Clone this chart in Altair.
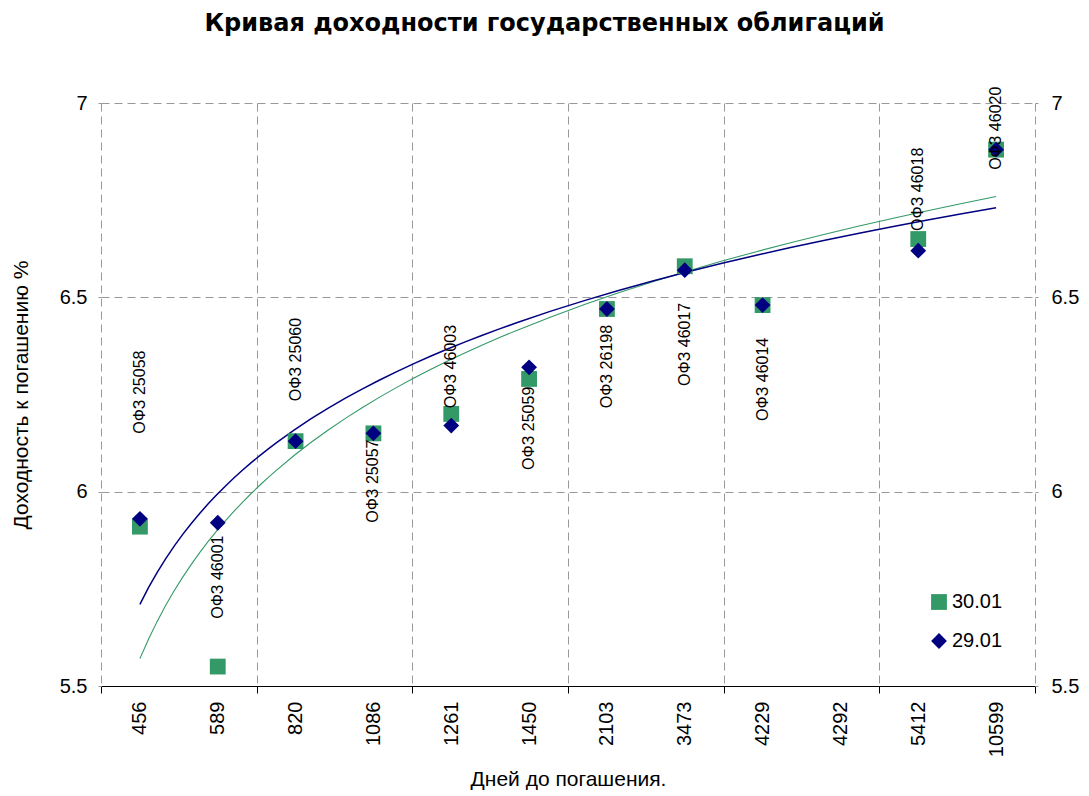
import json
import altair as alt
import pandas as pd

categories = ["456", "589", "820", "1086", "1261", "1450", "2103", "3473", "4229", "4292", "5412", "10599"]
idx = list(range(1, 13))
y_3001 = [5.91, 5.55, 6.13, 6.15, 6.20, 6.29, 6.47, 6.58, 6.48, None, 6.65, 6.88]
y_2901 = [5.93, 5.92, 6.13, 6.15, 6.17, 6.32, 6.47, 6.57, 6.48, None, 6.62, 6.88]
bond_labels = ["ОФЗ 25058", "ОФЗ 46001", "ОФЗ 25060", "ОФЗ 25057", "ОФЗ 46003", "ОФЗ 25059",
               "ОФЗ 26198", "ОФЗ 46017", "ОФЗ 46014", "", "ОФЗ 46018", "ОФЗ 46020"]
label_y = [6.256, 5.78, 6.34, 6.027, 6.322, 6.163, 6.322, 6.379, 6.289, None, 6.778, 6.935]
trend_3001 = [5.57, 5.902, 6.096, 6.234, 6.341, 6.428, 6.502, 6.566, 6.622, 6.673, 6.719, 6.756]
trend_2901 = [5.71, 5.995, 6.161, 6.279, 6.371, 6.446, 6.509, 6.564, 6.612, 6.655, 6.694, 6.731]

series_names = ["30.01", "29.01"]
series_colors = ["#339966", "#000080"]
series_shapes = ["square", "diamond"]
trend_widths = [1.1, 1.5]

FONT = "Liberation Sans"

rows = []
for name, vals in zip(series_names, [y_3001, y_2901]):
    for i, v in zip(idx, vals):
        if v is not None:
            rows.append({"i": i, "v": v, "series": name})
points_df = pd.DataFrame(rows)

trows = []
for name, vals in zip(series_names, [trend_3001, trend_2901]):
    for i, v in zip(idx, vals):
        trows.append({"i": i, "v": v, "series": name})
trend_df = pd.DataFrame(trows)

labels_df = pd.DataFrame({"i": idx, "ly": label_y, "txt": bond_labels}).dropna()

cats_js = json.dumps(categories).replace('"', "'")
x_values = [0.5, 1, 2, 2.5, 3, 4, 4.5, 5, 6, 6.5, 7, 8, 8.5, 9, 10, 10.5, 11, 12, 12.5]
boundary_test = "datum.value % 2 == 0.5"

x_scale = alt.Scale(domain=[0.5, 12.5], nice=False, zero=False)
y_scale = alt.Scale(domain=[5.5, 7], nice=False, zero=False)

x_axis = alt.Axis(
    values=x_values,
    labelExpr=f"datum.value % 1 == 0 ? {cats_js}[datum.value - 1] : ''",
    labelAngle=-90,
    labelFontSize=20,
    labelFont=FONT,
    labelColor="black",
    labelPadding=8,
    labelOverlap=False,
    labelFlush=False,
    tickSize=7,
    tickColor="black",
    tickOpacity={"condition": {"test": boundary_test, "value": 1}, "value": 0},
    grid=True,
    gridDash=[8, 5],
    gridColor="#999999",
    gridOpacity={"condition": {"test": boundary_test, "value": 1}, "value": 0},
    domainColor="black",
    title="Дней до погашения.",
    titleFont=FONT,
    titleFontSize=21,
    titleFontWeight="normal",
    titleColor="black",
    titlePadding=12,
)

y_axis_left = alt.Axis(
    values=[5.5, 6, 6.5, 7],
    format="~g",
    labelFontSize=20,
    labelFont=FONT,
    labelColor="black",
    labelPadding=11,
    tickSize=3,
    tickColor="#999999",
    domain=False,
    grid=True,
    gridDash=[8, 5],
    gridColor="#999999",
    gridOpacity={"condition": {"test": "datum.value == 5.5", "value": 0}, "value": 1},
    title="Доходность к погашению %",
    titleFont=FONT,
    titleFontSize=21,
    titleFontWeight="normal",
    titleColor="black",
    titlePadding=28,
)

y_axis_right = alt.Axis(
    orient="right",
    values=[5.5, 6, 6.5, 7],
    format="~g",
    labelFontSize=20,
    labelFont=FONT,
    labelColor="black",
    labelPadding=13,
    tickSize=3,
    tickColor="#999999",
    domain=False,
    grid=False,
    title=None,
)

trend_layers = []
for k, (name, col, w) in enumerate(zip(series_names, series_colors, trend_widths)):
    trend_layers.append(
        alt.Chart(trend_df)
        .transform_filter(alt.datum.series == name)
        .transform_regression("i", "v", method="log")
        .mark_line(color=col, strokeWidth=w)
        .encode(x=alt.X("i:Q", scale=x_scale, axis=x_axis),
                y=alt.Y("v:Q", scale=y_scale, axis=y_axis_left if k == 0 else None))
    )

legend = alt.Legend(
    orient="none", legendX=828, legendY=489, title=None,
    labelFontSize=20, labelFont=FONT, labelColor="black",
    symbolSize=250, symbolStrokeWidth=0, rowPadding=19, labelOffset=3, padding=0,
)

points = (
    alt.Chart(points_df)
    .mark_point(filled=True, size=250, opacity=1)
    .encode(
        x=alt.X("i:Q", scale=x_scale, axis=x_axis),
        y=alt.Y("v:Q", scale=y_scale, axis=None),
        color=alt.Color("series:N", scale=alt.Scale(domain=series_names, range=series_colors),
                        legend=legend, sort=series_names),
        shape=alt.Shape("series:N", scale=alt.Scale(domain=series_names, range=series_shapes),
                        legend=legend, sort=series_names),
        order=alt.Order("ord:Q"),
    )
    .transform_calculate(ord="datum.series == '30.01' ? 0 : 1")
)

texts = (
    alt.Chart(labels_df)
    .mark_text(angle=270, align="center", baseline="middle", fontSize=16, font=FONT, color="black")
    .encode(
        x=alt.X("i:Q", scale=x_scale, axis=x_axis),
        y=alt.Y("ly:Q", scale=y_scale, axis=y_axis_right),
        text="txt:N",
    )
)

chart = (
    alt.layer(*trend_layers, points, texts)
    .resolve_axis(y="independent")
    .properties(
        width=934,
        height=583,
        padding={"left": 2, "top": 3, "right": 0, "bottom": 0},
        title=alt.TitleParams(
            "Кривая доходности государственных облигаций",
            font="DejaVu Sans", fontSize=24, fontWeight="bold", color="black",
            anchor="middle", frame="bounds", offset=51,
        ),
    )
    .configure_view(stroke=None)
)

chart.save("out.html", embed_options={"renderer": "svg", "actions": False})
